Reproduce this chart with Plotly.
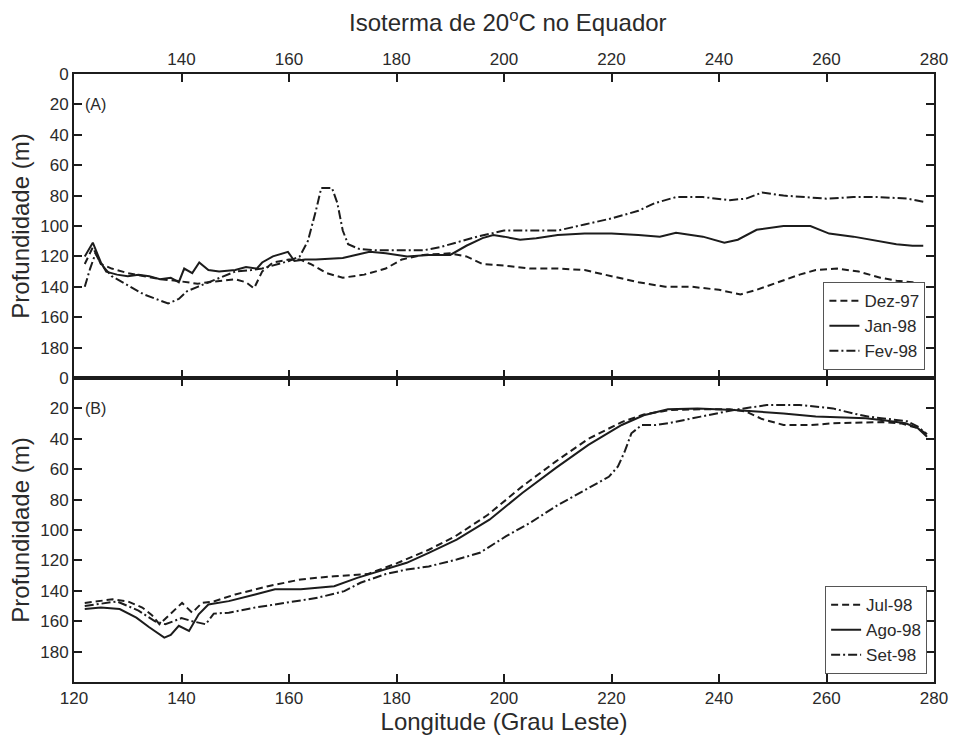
import plotly.graph_objects as go

# ---------------- Data ----------------
# Panel A
dez97_x = [122, 123.5, 125, 127, 130, 133, 136, 139, 141, 143, 145, 148, 150, 152, 153.5, 155, 157, 160, 162, 164,
           167, 170, 174, 178, 181, 185, 190, 193, 196, 200, 205, 210, 215, 220, 225, 230, 235, 240, 244, 247,
           251, 255, 258, 262, 266, 270, 273, 276, 278]
dez97_y = [125, 114, 125, 128, 131, 133, 135, 136, 137, 138, 137, 136, 135, 137, 141, 130, 124, 122, 122, 125,
           131, 134, 132, 128, 122, 119, 118, 120, 125, 126, 128, 128, 129, 133, 137, 140, 140, 142, 145, 142,
           137, 132, 129, 128, 130, 134, 136, 137, 140]

jan98_x = [122, 123.5, 125, 126, 128, 130, 132, 134, 136, 138, 139.5, 140.5, 142, 143.3, 145, 147, 150, 152, 154,
           155, 157, 159.8, 161, 163, 165, 170, 175, 178, 182, 186, 190, 193, 196, 198, 200, 203, 206, 210, 215,
           220, 225, 229, 232, 237, 241, 243.5, 247, 252, 257, 260.5, 265, 270, 273, 276, 278]
jan98_y = [120, 111, 124, 130, 132, 133, 132, 133, 135, 134, 137, 128, 131, 124, 129, 130, 129, 127, 128,
           124, 120, 117, 123, 122, 122, 121, 117, 118, 120, 119, 119, 113, 108, 106, 107, 109, 108, 106, 105,
           105, 106, 107, 104.5, 107, 111, 109, 102.5, 100, 100, 105, 107, 110, 112, 113, 113]

fev98_x = [122, 123, 124, 125, 127, 130, 133, 136, 137.5, 139.5, 141, 143, 145, 148, 150, 153, 155, 158, 160, 162,
           163.5, 165, 166, 168, 169, 170, 171, 173, 176, 180, 185, 188, 191, 195, 200, 205, 210, 215, 220, 225,
           228, 232, 237, 242, 245, 248, 252, 256, 260, 265, 270, 275, 278]
fev98_y = [140, 128, 118, 125, 133, 139, 145, 149, 151, 148, 143, 140, 137, 133, 130, 129, 128, 125, 123, 120,
           110, 90, 75, 75, 85, 103, 112, 115, 116, 116, 116, 114, 111, 107, 103, 103, 103, 99, 95, 90,
           85, 81, 81, 83, 82, 78, 80, 81, 82, 81, 81, 82, 84]

# Panel B
jul98_x = [122, 127.2, 130, 132.7, 134.5, 135.9, 138, 140.1, 142, 143.8, 146, 150, 156.1, 162.2, 168.4, 174.6, 180,
           186, 191, 197, 203.4, 209.6, 215.7, 221.9, 226, 231, 237, 242, 245, 248, 252, 257, 261.2, 266, 270.4,
           274, 277, 278.7]
jul98_y = [148, 145.6, 147, 151, 156, 162, 155, 148, 154.4, 148, 147, 142.4, 137, 132.5, 130.4, 129, 122,
           113, 104, 90, 71.3, 55, 40, 29, 24, 21, 20.5, 20.5, 22, 27, 30.9, 31, 29.8, 29.5, 29,
           30, 33, 37]

ago98_x = [122, 125, 128.5, 131.6, 134, 136.8, 138, 139.5, 141.4, 143.2, 145, 148.8, 153.7, 157.4, 162.2, 168.4,
           172.7, 176, 181.9, 186, 191.2, 197.3, 203.4, 209.6, 215.7, 221.9, 226, 230.5, 236, 242.8, 247, 252,
           258, 263, 267.3, 271, 274.7, 277, 278.7]
ago98_y = [152, 151, 152, 157.7, 164, 170.8, 169, 163, 166.4, 155.5, 149, 146.8, 142.4, 139, 139, 137,
           131.5, 128, 121.6, 115, 106.3, 93.2, 75.7, 59.3, 44, 30.9, 24.5, 20.5, 20, 21, 22, 23.3,
           25.4, 26, 26.5, 28, 29.8, 33, 38.6]

set98_x = [122, 128, 132, 135, 137, 140, 142, 144.5, 146, 148.8, 153.7, 159.2, 165.3, 170.3, 173.3, 178, 181.9,
           186, 191.2, 195.5, 200.4, 205, 209.6, 215.7, 219.5, 221.2, 222.5, 223.7, 225.6, 228, 230.5, 236.6,
           242.8, 248.9, 255, 261.2, 264.9, 268, 272, 275, 277, 278.7]
set98_y = [150, 147, 153, 160, 162, 158, 160, 162, 155, 154.4, 151, 148, 144.6, 140.2, 134.7, 129, 126,
           124, 119.4, 115, 104.1, 95, 84.5, 72.4, 65, 58.2, 48, 36.4, 31, 31, 29.8, 25.4,
           21, 17.8, 17.8, 20, 23.3, 25.5, 27, 28.5, 32, 37]

x_ticks_top = [140, 160, 180, 200, 220, 240, 260, 280]
x_ticks_bottom = [120, 140, 160, 180, 200, 220, 240, 260, 280]
y_ticks = [0, 20, 40, 60, 80, 100, 120, 140, 160, 180]

# ---------------- Figure ----------------
INK = "#1c1c1c"
TXT = "#2a2a2a"
FONT = "Liberation Sans, Arial, sans-serif"
DASH = "7px,4px"
DASHDOT = "9px,3px,2px,3px"

fig = go.Figure()

def add(x, y, name, dash, xa, ya, legend):
    fig.add_trace(go.Scatter(x=x, y=y, name=name, mode="lines",
                             line=dict(color=INK, width=2, dash=dash),
                             xaxis=xa, yaxis=ya, legend=legend))

add(dez97_x, dez97_y, "Dez-97", DASH, "x", "y", "legend")
add(jan98_x, jan98_y, "Jan-98", "solid", "x", "y", "legend")
add(fev98_x, fev98_y, "Fev-98", DASHDOT, "x", "y", "legend")
add(jul98_x, jul98_y, "Jul-98", DASH, "x2", "y2", "legend2")
add(ago98_x, ago98_y, "Ago-98", "solid", "x2", "y2", "legend2")
add(set98_x, set98_y, "Set-98", DASHDOT, "x2", "y2", "legend2")

axis_common = dict(showline=True, linecolor=INK, linewidth=2, ticks="inside", ticklen=8,
                   tickwidth=2, tickcolor=INK, mirror="ticks", showgrid=False, zeroline=False,
                   tickfont=dict(family=FONT, size=17, color=TXT))

legend_common = dict(bgcolor="white", bordercolor="#555", borderwidth=1,
                     font=dict(family=FONT, size=17, color=TXT),
                     xanchor="right", yanchor="bottom", tracegroupgap=0, itemwidth=30)

title_font = dict(family=FONT, size=24, color=TXT)

fig.update_layout(
    width=960, height=741,
    margin=dict(l=74, r=18, t=74, b=55),
    paper_bgcolor="white", plot_bgcolor="white",
    font=dict(family=FONT, color=TXT),
    title=dict(text="Isoterma de 20<sup>o</sup>C no Equador", x=0.529, xanchor="center",
               y=0.97, yanchor="middle", font=title_font),
    xaxis=dict(domain=[0, 1], range=[120, 280], anchor="y", side="top",
               tickvals=x_ticks_top, **axis_common),
    yaxis=dict(domain=[0.5, 1], range=[200, 0], anchor="x", tickvals=y_ticks,
               title=dict(text="Profundidade (m)", font=title_font, standoff=4),
               **axis_common),
    xaxis2=dict(domain=[0, 1], range=[120, 280], anchor="y2", side="bottom",
                tickvals=x_ticks_bottom,
                title=dict(text="Longitude (Grau Leste)", font=title_font, standoff=4),
                **axis_common),
    yaxis2=dict(domain=[0, 0.5], range=[200, 0], anchor="x2", tickvals=y_ticks,
                title=dict(text="Profundidade (m)", font=title_font, standoff=4),
                **axis_common),
    legend=dict(x=0.99, y=0.513, **legend_common),
    legend2=dict(x=0.992, y=0.013, **legend_common),
    showlegend=True,
)

fig.add_annotation(text="(A)", xref="x domain", yref="y", x=0.01, y=20, xanchor="left",
                   yanchor="middle", showarrow=False, font=dict(family=FONT, size=16, color=TXT))
fig.add_annotation(text="(B)", xref="x2 domain", yref="y2", x=0.01, y=20, xanchor="left",
                   yanchor="middle", showarrow=False, font=dict(family=FONT, size=16, color=TXT))

fig.write_html("out.html")
